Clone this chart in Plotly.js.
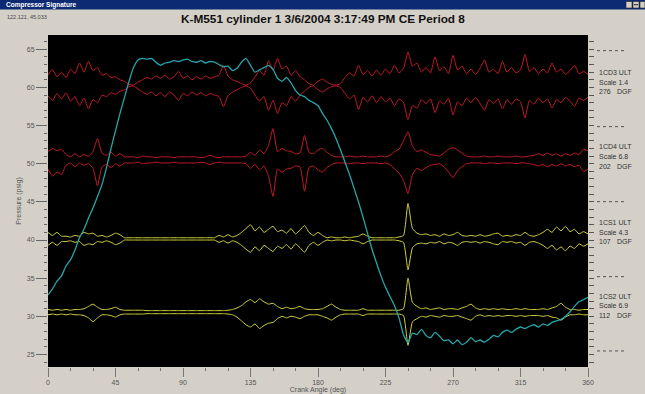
<!DOCTYPE html>
<html>
<head>
<meta charset="utf-8">
<script src="https://cdn.plot.ly/plotly-3.0.1.min.js"></script>
<style>
html,body{margin:0;padding:0;background:#d4d0c8;}
#chart{width:645px;height:394px;}
</style>
</head>
<body>
<div id="chart"></div>
<script>
// Crank angle (deg)
const angle = [0,3,6,9,12,15,18,21,24,27,30,33,36,39,42,45,48,51,54,57,60,63,66,69,72,75,78,81,84,87,90,93,96,99,102,105,108,111,114,117,120,123,126,129,132,135,138,141,144,147,150,153,156,159,162,165,168,171,174,177,180,183,186,189,192,195,198,201,204,207,210,213,216,219,222,225,228,231,234,237,240,243,246,249,252,255,258,261,264,267,270,273,276,279,282,285,288,291,294,297,300,303,306,309,312,315,318,321,324,327,330,333,336,339,342,345,348,351,354,357,360];

// Cylinder pressure (psig)
const pressure = [
32.8,33.6,34.6,35.3,36.6,37.4,38.7,40.3,41.4,42.9,
44.2,45.7,47.3,49.5,52.0,54.3,56.6,58.7,60.8,62.6,
63.6,63.8,63.7,63.8,63.3,62.9,63.2,63.3,63.5,63.4,
63.6,63.7,63.4,63.3,63.5,63.2,63.4,63.3,63.0,62.7,
62.8,62.2,62.5,63.3,63.8,62.9,62.0,62.3,62.6,62.9,
62.4,61.2,60.8,61.3,60.6,59.6,59.0,58.8,58.3,58.0,
57.6,56.6,55.7,54.6,53.3,51.8,50.2,48.6,46.8,45.0,
43.0,40.9,38.8,37.0,35.3,33.8,32.6,31.4,29.8,27.6,
26.6,27.8,27.6,28.3,27.5,27.2,27.9,27.4,26.8,26.9,
26.4,26.9,26.3,26.6,27.2,26.7,26.9,26.6,27.0,27.5,
27.3,27.9,28.2,27.9,28.3,28.6,28.4,28.7,28.9,28.6,
29.0,28.8,29.2,29.4,29.6,30.0,30.6,31.3,31.9,32.2,
32.5];

// 1CD3 ULT envelope (red, upper / lower)
const cd3Upper = [
61.6,62.3,61.4,62.0,61.3,62.4,61.8,63.2,62.0,63.4,
62.2,62.6,61.6,61.8,61.3,61.4,61.0,60.8,60.4,60.3,
60.7,61.0,61.3,61.1,61.5,61.2,61.6,61.1,61.4,62.1,
61.2,61.5,61.0,61.4,61.1,61.5,61.2,61.4,61.6,62.9,
61.5,61.0,60.8,60.5,60.3,60.6,61.4,62.2,61.6,63.5,
62.2,63.8,62.4,62.8,61.6,62.2,61.4,61.0,60.5,60.3,
60.8,61.1,60.7,60.4,60.3,60.5,61.3,61.9,61.5,62.9,
61.7,62.2,61.5,62.3,61.6,62.4,61.8,62.9,61.9,62.5,
64.6,62.8,63.2,62.0,62.6,61.9,64.0,62.2,62.7,61.8,
64.2,62.3,62.8,61.8,62.4,61.7,62.5,63.6,62.0,62.4,
61.8,63.4,62.0,62.6,61.9,62.3,64.3,62.1,62.6,61.8,
62.4,61.9,63.2,62.0,62.4,61.7,62.2,62.9,61.8,62.1,
61.7];
const cd3Lower = [
58.9,58.3,59.2,58.5,59.3,58.2,58.8,57.6,58.6,57.2,
58.4,58.0,59.0,58.8,59.3,59.1,59.5,59.7,60.1,60.2,
59.8,59.4,59.1,59.4,58.9,59.3,58.8,59.4,59.0,58.3,
59.2,58.9,59.4,59.0,59.3,58.9,59.2,59.0,58.8,57.5,
58.9,59.4,59.7,60.0,60.2,59.9,59.0,58.2,58.8,57.0,
58.3,56.6,58.0,57.6,58.8,58.2,59.0,59.5,60.0,60.2,
59.7,59.4,59.8,60.1,60.2,60.0,59.2,58.5,59.0,57.1,
58.7,58.1,58.9,58.0,58.8,58.1,58.6,57.6,58.5,58.0,
55.8,57.6,57.3,58.4,57.9,58.5,56.7,58.2,57.8,58.6,
56.4,58.1,57.6,58.6,58.0,58.7,57.9,57.0,58.4,57.9,
58.5,57.2,58.4,57.8,58.5,58.1,56.0,58.3,57.8,58.6,
58.0,58.5,57.3,58.4,58.0,58.7,58.2,57.5,58.6,58.3,
58.7];

// 1CD4 ULT envelope (red)
const cd4Upper = [
51.6,52.0,51.7,51.9,51.2,50.9,51.3,50.9,51.2,51.0,
51.6,53.3,51.4,51.1,51.5,51.0,51.3,50.9,50.9,50.9,
50.8,51.0,50.9,50.9,50.8,50.9,50.9,50.9,50.8,50.9,
50.9,50.9,50.9,50.9,50.8,50.9,51.1,50.9,50.8,50.9,
50.9,50.9,50.9,50.9,51.0,51.5,51.1,51.8,51.3,52.4,
54.6,51.6,52.0,51.7,51.6,51.3,51.4,53.7,51.5,51.3,
51.8,52.0,51.5,51.1,50.9,50.9,50.9,51.0,50.9,50.9,
51.0,50.9,50.9,50.9,51.0,50.9,51.1,51.6,51.9,53.0,
54.2,52.3,51.6,51.8,51.5,51.2,51.1,51.0,51.4,51.9,
52.1,51.8,51.4,51.0,50.9,50.9,50.9,51.0,50.9,50.9,
51.0,50.9,50.9,50.9,51.0,50.9,50.9,51.0,51.1,51.3,
51.1,51.4,51.1,51.3,51.0,51.3,51.1,51.4,51.2,51.9,
51.7];
const cd4Lower = [
49.3,48.4,48.9,48.6,49.8,50.1,49.6,50.1,49.8,50.0,
49.4,47.1,49.6,49.9,49.5,50.0,49.7,50.1,50.1,50.1,
50.2,50.0,50.1,50.1,50.2,50.1,50.1,50.1,50.2,50.1,
50.1,50.1,50.1,50.1,50.2,50.1,49.9,50.1,50.2,50.1,
50.1,50.1,50.1,50.1,50.0,49.4,49.9,49.2,49.7,48.4,
45.7,49.3,48.9,49.3,49.4,49.7,49.6,46.4,49.5,49.7,
49.2,48.9,49.5,49.9,50.1,50.1,50.1,50.0,50.1,50.1,
50.0,50.1,50.1,50.1,50.0,50.1,49.9,49.3,48.8,47.8,
46.1,48.6,49.4,49.1,49.5,49.8,49.9,50.0,49.6,48.9,
48.2,49.1,49.6,50.0,50.1,50.1,50.1,50.0,50.1,50.1,
50.0,50.1,50.1,50.1,50.0,50.1,50.1,50.0,49.9,49.7,
49.9,49.6,49.9,49.7,50.0,49.7,49.9,49.6,49.8,49.0,
49.3];

// 1CS1 ULT envelope (yellow)
const cs1Upper = [
41.0,40.6,41.0,40.5,40.5,40.4,40.6,40.5,41.0,40.8,
40.9,40.5,40.6,40.4,40.6,40.9,40.7,40.3,40.3,40.3,
40.3,40.3,40.3,40.3,40.3,40.3,40.3,40.3,40.3,40.3,
40.3,40.3,40.3,40.3,40.3,40.3,40.3,40.3,40.6,40.4,
40.7,40.4,40.6,41.0,41.5,42.0,41.2,41.7,41.0,41.4,
41.8,41.1,41.3,40.9,41.5,40.8,41.3,41.9,41.0,40.6,
41.0,40.6,40.3,40.4,40.3,40.3,40.4,40.3,40.4,40.5,
40.8,40.5,40.3,40.3,40.3,40.3,40.3,40.3,40.4,40.6,
44.8,41.5,40.9,40.7,40.8,40.6,40.7,40.5,40.8,40.6,
40.7,41.0,40.6,40.5,40.6,40.5,40.7,40.5,40.6,40.8,
40.9,40.5,40.6,40.5,40.7,40.6,41.0,40.6,40.5,40.7,
41.0,41.4,41.0,41.7,41.2,41.8,41.1,41.4,40.8,41.1,
40.8];
const cs1Lower = [
39.3,39.7,39.3,39.8,39.8,39.9,39.7,39.8,39.3,39.5,
39.4,39.8,39.7,39.9,39.7,39.4,39.6,40.0,40.0,40.0,
40.0,40.0,40.0,40.0,40.0,40.0,40.0,40.0,40.0,40.0,
40.0,40.0,40.0,40.0,40.0,40.0,40.0,40.0,39.7,39.9,
39.6,39.9,39.7,39.3,38.8,38.4,39.1,38.6,39.3,38.9,
38.5,39.2,38.9,39.4,38.8,39.5,39.0,38.4,39.3,39.7,
39.3,39.7,40.0,39.9,40.0,40.0,39.9,40.0,39.9,39.8,
39.5,39.8,40.0,40.0,40.0,40.0,40.0,40.0,39.9,39.7,
36.1,39.0,39.5,39.6,39.5,39.7,39.6,39.8,39.5,39.7,
39.6,39.3,39.7,39.8,39.7,39.8,39.6,39.8,39.7,39.5,
39.4,39.8,39.7,39.8,39.6,39.7,39.3,39.7,39.8,39.6,
39.3,38.9,39.3,38.7,39.1,38.6,39.2,38.9,39.5,39.2,
39.5];

// 1CS2 ULT envelope (yellow)
const cs2Upper = [
30.9,30.8,30.9,30.8,30.9,30.8,30.9,30.9,31.0,31.3,
31.6,31.2,30.9,30.9,31.0,31.2,30.9,30.8,30.8,30.8,
30.8,30.8,30.75,30.75,30.75,30.75,30.75,30.75,30.75,30.75,
30.75,30.75,30.75,30.75,30.75,30.75,30.75,30.75,30.75,30.75,
30.8,30.9,31.1,31.4,31.9,32.2,31.8,32.3,31.9,31.6,
31.7,31.3,31.0,31.2,31.0,31.1,31.3,31.0,30.9,30.9,
30.9,31.0,31.3,31.6,31.2,30.9,30.8,30.8,30.8,30.8,
31.0,30.8,30.8,30.8,30.8,30.8,30.8,30.8,30.8,31.0,
35.0,31.8,31.3,31.0,31.1,30.9,31.0,31.1,30.9,31.0,
31.0,30.9,31.1,31.3,31.6,31.1,30.9,31.0,30.9,31.0,
30.9,31.0,30.9,30.9,31.0,30.9,31.0,30.9,30.9,30.9,
31.0,30.9,31.1,31.3,31.7,31.2,30.9,30.9,30.8,30.9,
30.9];
const cs2Lower = [
30.2,30.3,30.2,30.3,30.2,30.3,30.2,30.2,30.1,29.8,
29.3,29.8,30.2,30.2,30.1,29.9,30.2,30.3,30.3,30.3,
30.3,30.3,30.35,30.35,30.35,30.35,30.35,30.35,30.35,30.35,
30.35,30.35,30.35,30.35,30.35,30.35,30.35,30.35,30.35,30.35,
30.3,30.2,29.9,29.4,28.9,28.6,29.0,28.4,28.8,29.1,
29.2,29.7,30.0,29.8,30.0,29.9,29.7,30.0,30.2,30.2,
30.2,30.0,29.8,29.5,29.9,30.2,30.3,30.3,30.3,30.3,
30.1,30.3,30.3,30.3,30.3,30.3,30.3,30.3,30.3,30.1,
26.2,29.3,29.7,30.0,29.9,30.1,30.0,29.9,30.1,30.0,
30.0,30.1,29.9,29.7,29.5,30.0,30.2,30.0,30.1,30.0,
30.1,30.0,30.1,30.1,30.0,30.1,30.0,30.1,30.1,30.1,
30.0,30.1,29.9,29.8,29.5,29.9,30.2,30.2,30.3,30.2,
30.2];

// Axis ticks
const xTicks = [0,45,90,135,180,225,270,315,360];
const xTickText = ['0','45','90','135','180','225','270','315','360'];
const yTicks = [25,30,35,40,45,50,55,60,65];

// Right-hand channel labels
const chanNames = ['1CD3 ULT','1CD4 ULT','1CS1 ULT','1CS2 ULT'];
const chanScale = ['Scale 1.4','Scale 6.8','Scale 4.3','Scale 6.9'];
const chanDeg = ['276','202','107','112'];
const chanNameY = [61.93,52.2,42.27,32.58];
const chanScaleY = [60.71,50.92,41.05,31.36];
const chanDegY = [59.44,49.61,39.78,30.05];
const sepY = [64.82,54.86,45.03,35.2,25.46];

const titleText = 'K-M551 cylinder 1 3/6/2004 3:17:49 PM CE Period 8';

const RED = 'rgb(196,26,38)';
const YEL = 'rgb(210,210,66)';
const CYAN = 'rgb(38,165,170)';
const Y_RANGE = [23.36, 66.87];

function tr(y, color, w){
  return {x: angle, y: y, type:'scatter', mode:'lines',
          line:{color:color, width:w||1, shape:'spline', smoothing:0.5},
          hoverinfo:'skip', showlegend:false};
}
const data = [
  tr(cd3Upper, RED), tr(cd3Lower, RED),
  tr(cd4Upper, RED), tr(cd4Lower, RED),
  tr(cs1Upper, YEL), tr(cs1Lower, YEL),
  tr(cs2Upper, YEL), tr(cs2Lower, YEL),
  tr(pressure, CYAN, 1.3),
  // transparent carrier so the right-hand tick scale is drawn
  {x: angle, y: pressure, yaxis:'y2', type:'scatter', mode:'lines', line:{color:'rgba(0,0,0,0)', width:1}, hoverinfo:'skip', showlegend:false}
];

const FONT = 'Liberation Sans, Arial, sans-serif';
const L=48, R=588, T=35, B=367;
const px = v => (v - L)/(R - L);
const py = v => (B - v)/(B - T);

const annotations = [
  {xref:'paper', yref:'paper', x:px(323), y:py(18.5), text:'<b>'+titleText+'</b>', showarrow:false, xanchor:'center', yanchor:'middle', font:{family:FONT, size:11.8, color:'#111'}},
  {xref:'paper', yref:'paper', x:px(4), y:py(4.8), text:'<b>Compressor Signature</b>', showarrow:false, xanchor:'left', yanchor:'middle', font:{family:FONT, size:6.5, color:'#ffffff'}},
  {xref:'paper', yref:'paper', x:px(5), y:py(17), text:'122.121, 45.033', showarrow:false, xanchor:'left', yanchor:'middle', font:{family:FONT, size:5.5, color:'#444'}}
];
for (let i=0;i<chanNames.length;i++){
  annotations.push({xref:'paper', yref:'y', x:px(597), y:chanNameY[i], text:chanNames[i], showarrow:false, xanchor:'left', yanchor:'middle', font:{family:FONT, size:7, color:'#333'}});
  annotations.push({xref:'paper', yref:'y', x:px(597), y:chanScaleY[i], text:chanScale[i], showarrow:false, xanchor:'left', yanchor:'middle', font:{family:FONT, size:7, color:'#333'}});
  annotations.push({xref:'paper', yref:'y', x:px(597), y:chanDegY[i], text:chanDeg[i], showarrow:false, xanchor:'left', yanchor:'middle', font:{family:FONT, size:7, color:'#333'}});
  annotations.push({xref:'paper', yref:'y', x:px(615), y:chanDegY[i], text:'DGF', showarrow:false, xanchor:'left', yanchor:'middle', font:{family:FONT, size:7, color:'#333'}});
}

const shapes = [
  {type:'rect', xref:'paper', yref:'paper', x0:px(0), x1:px(645), y0:py(0), y1:py(9.5), fillcolor:'#0c2a74', line:{width:0}, layer:'below'},
  {type:'rect', xref:'paper', yref:'paper', x0:px(626), x1:px(632), y0:py(1.5), y1:py(8), fillcolor:'#d4d0c8', line:{width:0.6, color:'#222'}},
  {type:'rect', xref:'paper', yref:'paper', x0:px(633), x1:px(639), y0:py(1.5), y1:py(8), fillcolor:'#d4d0c8', line:{width:0.6, color:'#222'}},
  {type:'rect', xref:'paper', yref:'paper', x0:px(640), x1:px(645), y0:py(1.5), y1:py(8), fillcolor:'#d4d0c8', line:{width:0.6, color:'#222'}},
  {type:'line', xref:'paper', yref:'paper', x0:px(634), x1:px(638), y0:py(4.7), y1:py(4.7), line:{width:1, color:'#222'}}
];
for (const s of sepY){
  shapes.push({type:'line', xref:'paper', yref:'y', x0:px(597), x1:px(626), y0:s, y1:s, line:{width:1, color:'#555', dash:'dot'}});
}

const layout = {
  width:645, height:394,
  margin:{l:L, r:645-R, t:T, b:394-B, pad:0},
  paper_bgcolor:'#d4d0c8',
  plot_bgcolor:'#000000',
  showlegend:false,
  hovermode:false,
  font:{family:FONT, size:7, color:'#444'},
  xaxis:{
    range:[0,360], tickmode:'array', tickvals:xTicks, ticktext:xTickText,
    ticks:'outside', ticklen:9, tickcolor:'#777', tickwidth:1,
    minor:{dtick:15, tick0:0, ticks:'outside', ticklen:3, tickcolor:'#777'},
    showgrid:false, zeroline:false, showline:false,
    tickfont:{family:FONT, size:7, color:'#555'},
    title:{text:'Crank Angle (deg)', font:{family:FONT, size:7, color:'#555'}, standoff:0}
  },
  yaxis:{
    range:Y_RANGE, tickmode:'array', tickvals:yTicks,
    ticks:'outside', ticklen:11, tickcolor:'#666', tickwidth:1,
    minor:{dtick:1, tick0:0, ticks:'outside', ticklen:3, tickcolor:'#666'},
    showgrid:false, zeroline:false, showline:false,
    tickfont:{family:FONT, size:7, color:'#555'},
    title:{text:'Pressure (psig)', font:{family:FONT, size:7, color:'#555'}, standoff:4}
  },
  yaxis2:{
    overlaying:'y', side:'right', anchor:'free', position:1,
    range:Y_RANGE, autorange:false,
    tickmode:'linear', tick0:25, dtick:1,
    ticks:'outside', ticklen:5, tickcolor:'#555', tickwidth:1,
    showticklabels:false, showgrid:false, zeroline:false, showline:false
  },
  annotations:annotations,
  shapes:shapes
};

Plotly.newPlot('chart', data, layout, {staticPlot:true, displayModeBar:false});
</script>
</body>
</html>
